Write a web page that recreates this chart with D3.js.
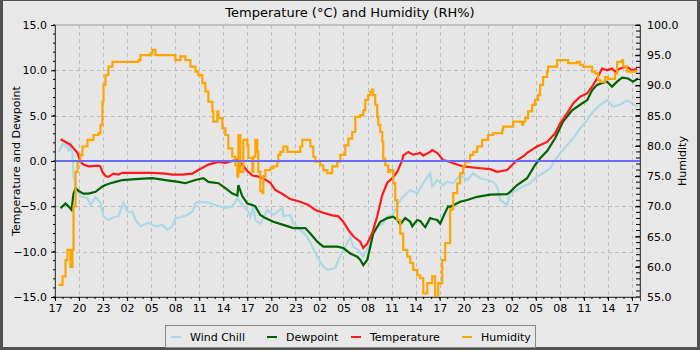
<!DOCTYPE html>
<html><head><meta charset="utf-8">
<script src="https://cdn.jsdelivr.net/npm/d3@7"></script>
<style>
html,body{margin:0;padding:0;background:#e8e8e8;}
svg{display:block;font-family:"DejaVu Sans",sans-serif;}
</style></head><body>
<svg id="chart" width="700" height="350"></svg>
<script>
// Time is hours elapsed since 17:00 on the first day.
const startHour = 17;
const hourTicks = d3.range(0, 73, 3);
const tempTicks = d3.range(-15, 15.1, 5);
const humTicks = d3.range(55, 100.1, 5);

const seriesNames = ["Wind Chill", "Dewpoint", "Temperature", "Humidity"];

const windChill = [[0.44,1.0],[0.69,1.4],[0.94,1.95],[1.31,1.6],[1.56,2.2],[1.68,1.0],[1.93,1.8],[2.18,0.9],[2.31,-1.7],[2.56,-2.8],[3.18,-3.9],[4.05,-4.1],[4.43,-4.85],[5.05,-4.0],[5.67,-4.6],[6.05,-6.1],[6.67,-6.5],[7.29,-6.2],[7.92,-6.1],[8.54,-4.6],[9.04,-5.6],[9.66,-5.6],[10.04,-6.5],[10.66,-7.2],[11.66,-6.8],[12.53,-7.2],[13.40,-7.05],[14.03,-7.6],[14.65,-7.2],[15.02,-6.3],[15.65,-6.2],[16.52,-5.95],[17.14,-5.6],[17.52,-4.65],[17.89,-4.5],[19.14,-4.6],[20.01,-4.85],[21.26,-5.2],[22.13,-5.0],[22.76,-4.1],[23.38,-4.85],[24.13,-5.6],[24.38,-6.15],[24.75,-5.0],[25.00,-6.5],[25.62,-6.9],[26.50,-5.4],[27.24,-5.95],[28.37,-5.2],[28.49,-6.1],[29.36,-5.95],[29.74,-6.9],[30.61,-7.6],[31.48,-8.35],[32.11,-9.45],[32.73,-10.55],[33.35,-11.5],[33.98,-12.0],[34.98,-11.8],[35.35,-10.9],[36.22,-9.45],[36.85,-8.35],[37.22,-9.45],[37.84,-9.8],[38.47,-10.55],[39.09,-9.45],[39.59,-8.35],[40.21,-7.25],[40.96,-6.9],[41.46,-6.15],[42.08,-5.95],[42.46,-5.4],[42.83,-4.65],[43.45,-3.95],[44.33,-3.2],[45.20,-3.55],[45.95,-2.45],[46.82,-1.35],[47.07,-2.8],[47.69,-2.1],[48.44,-2.65],[48.94,-2.3],[49.69,-2.45],[50.56,-1.55],[51.43,-2.1],[52.18,-1.35],[53.05,-1.9],[53.93,-2.1],[54.68,-2.3],[55.17,-2.8],[55.55,-4.3],[56.42,-4.85],[56.80,-3.55],[57.67,-3.2],[58.42,-2.8],[59.29,-2.45],[60.16,-1.7],[60.91,-1.35],[61.78,-0.8],[62.41,0.1],[63.03,0.85],[63.90,1.75],[64.65,2.5],[65.52,3.6],[66.40,4.5],[67.14,5.45],[68.02,6.2],[68.89,6.7],[69.64,6.0],[70.51,6.2],[71.38,6.7],[72.01,6.35],[72.63,6.0]];

const dewpoint = [[0.69,-5.2],[1.31,-4.7],[1.68,-5.0],[2.06,-5.4],[2.31,-3.6],[2.56,-3.0],[2.93,-3.3],[3.55,-3.6],[4.18,-3.6],[5.05,-3.4],[5.92,-2.8],[6.30,-2.65],[6.92,-2.45],[7.54,-2.3],[8.42,-2.1],[10.04,-2.0],[12.16,-1.9],[13.78,-2.1],[15.40,-2.3],[16.27,-2.45],[17.52,-2.1],[18.52,-1.9],[19.14,-2.3],[20.39,-2.45],[21.26,-3.0],[22.13,-3.6],[22.76,-3.8],[22.88,-2.65],[23.38,-3.9],[24.00,-4.7],[24.63,-4.85],[25.00,-5.0],[25.62,-5.95],[26.25,-6.3],[27.24,-6.7],[28.49,-7.05],[29.74,-7.4],[31.23,-7.4],[31.86,-8.0],[32.73,-8.9],[33.48,-9.45],[35.22,-9.45],[35.97,-9.6],[36.85,-10.2],[37.72,-10.55],[38.09,-10.9],[38.47,-11.5],[38.97,-10.9],[39.34,-9.45],[39.71,-8.0],[40.59,-6.7],[41.46,-6.3],[42.21,-6.15],[42.71,-6.5],[43.08,-7.0],[43.70,-6.3],[44.33,-6.7],[44.58,-7.2],[45.20,-6.5],[45.57,-6.6],[45.95,-7.05],[46.20,-7.3],[46.82,-6.3],[47.19,-6.4],[47.69,-6.5],[48.07,-6.9],[48.44,-6.15],[49.06,-5.0],[49.31,-5.05],[50.56,-4.5],[51.43,-4.3],[52.68,-3.95],[54.30,-3.7],[56.42,-3.65],[56.80,-3.4],[57.67,-2.65],[58.91,-1.9],[59.91,-0.44],[60.54,0.3],[61.41,1.1],[62.41,2.5],[63.40,4.35],[64.53,5.6],[65.52,6.2],[66.40,6.7],[67.02,7.8],[67.64,8.4],[68.27,8.6],[68.89,8.75],[69.51,8.2],[70.14,8.75],[70.76,9.2],[71.51,9.1],[72.13,8.75],[72.76,9.1]];

const temperature = [[0.69,2.4],[1.31,2.1],[1.93,1.8],[2.31,1.4],[2.81,0.9],[3.18,-0.1],[3.55,-0.4],[4.18,-0.6],[5.42,-0.5],[5.67,-0.6],[5.92,-1.2],[6.30,-1.65],[6.67,-1.75],[7.29,-1.4],[7.92,-1.5],[8.42,-1.3],[10.04,-1.3],[12.16,-1.3],[13.78,-1.4],[14.65,-1.5],[15.90,-1.5],[17.14,-1.4],[17.89,-1.0],[19.14,-0.4],[20.39,-0.1],[21.26,-0.2],[22.13,0.0],[22.76,0.2],[23.38,-0.4],[24.00,-1.1],[24.63,-1.6],[25.25,-1.7],[26.00,-1.9],[26.87,-2.4],[27.49,-3.2],[28.49,-3.7],[29.36,-4.2],[30.61,-4.5],[31.61,-4.85],[32.48,-5.4],[33.48,-5.7],[34.60,-6.0],[35.35,-6.1],[35.97,-6.7],[36.60,-7.6],[37.22,-8.3],[38.09,-8.9],[38.47,-9.6],[38.97,-9.1],[39.59,-7.95],[40.21,-6.1],[40.84,-3.75],[41.46,-2.4],[42.08,-1.9],[42.71,-1.2],[43.33,0.1],[43.45,0.6],[44.08,1.0],[44.70,0.7],[45.20,0.8],[45.57,0.9],[45.95,0.6],[46.82,1.0],[47.07,1.2],[47.69,0.9],[48.44,0.1],[49.31,-0.1],[49.69,-0.25],[50.93,-0.6],[53.05,-0.8],[54.30,-0.9],[55.17,-1.2],[56.42,-1.0],[57.04,-0.44],[57.67,0.1],[58.42,0.5],[58.91,0.9],[60.16,1.6],[61.41,2.1],[62.41,3.05],[63.03,4.15],[63.90,5.25],[64.65,6.35],[65.52,7.1],[66.40,7.45],[67.02,8.2],[67.64,9.1],[68.27,10.2],[68.89,10.0],[69.51,10.2],[69.89,9.85],[70.51,10.2],[71.38,10.4],[72.01,10.0],[72.63,10.2]];

const humidity = [[0.44,57.0],[0.69,57.0],[0.94,58.4],[1.31,61.1],[1.56,62.8],[1.93,60.0],[2.18,62.8],[2.31,70.0],[2.56,75.7],[2.81,77.4],[3.18,78.5],[3.43,79.9],[4.05,81.0],[4.80,81.8],[5.42,82.1],[5.67,83.5],[5.92,87.3],[6.05,90.1],[6.30,91.7],[6.67,93.1],[7.17,93.9],[10.41,94.2],[10.66,95.0],[11.91,95.3],[12.16,95.9],[12.53,95.0],[14.78,95.0],[15.02,94.2],[15.65,94.8],[16.27,94.2],[16.90,93.1],[17.52,92.3],[17.89,91.7],[18.39,90.4],[18.77,89.0],[19.14,87.3],[19.64,85.7],[19.76,84.0],[20.26,85.7],[20.39,84.6],[20.89,82.9],[21.26,81.8],[21.63,79.6],[22.13,78.2],[22.51,76.8],[22.76,74.9],[22.88,81.8],[23.13,75.7],[23.50,81.0],[24.00,80.1],[24.13,78.0],[24.63,75.7],[24.75,78.2],[25.00,81.0],[25.25,79.0],[25.37,75.7],[25.62,72.5],[25.87,72.2],[26.00,75.0],[26.25,76.0],[26.87,76.3],[27.24,76.6],[27.74,77.4],[27.87,78.5],[28.12,79.0],[28.49,79.9],[28.99,79.0],[30.36,79.0],[30.61,79.9],[30.86,81.0],[31.61,81.0],[31.86,79.9],[32.23,78.2],[32.48,77.4],[33.10,76.8],[33.48,76.0],[33.98,75.5],[34.60,76.6],[35.22,77.4],[35.60,78.5],[36.22,80.1],[36.60,81.2],[37.09,82.3],[37.47,84.8],[38.09,85.1],[38.47,85.9],[38.72,87.6],[39.09,88.4],[39.34,89.0],[39.59,89.3],[39.71,88.4],[39.96,86.8],[40.21,84.8],[40.34,83.5],[40.59,82.3],[40.84,80.7],[40.96,77.9],[41.21,76.8],[41.58,75.7],[41.83,76.0],[42.21,73.8],[42.46,71.0],[42.71,67.7],[43.08,65.5],[43.45,62.8],[43.95,61.7],[44.33,60.6],[44.70,59.5],[45.20,58.6],[45.57,58.1],[45.95,55.6],[46.45,57.3],[47.07,58.4],[47.44,55.0],[47.82,57.3],[48.32,61.1],[48.69,63.9],[49.31,69.5],[49.69,72.2],[50.19,73.8],[50.56,75.5],[50.93,76.6],[51.18,77.4],[51.81,78.5],[52.18,79.0],[52.68,79.9],[53.30,81.0],[54.05,81.8],[54.68,82.1],[55.80,82.6],[55.92,83.2],[57.04,83.2],[57.17,84.0],[58.04,84.0],[58.29,83.5],[58.42,84.0],[58.67,84.6],[59.04,85.7],[59.54,86.8],[59.91,87.6],[60.29,88.4],[60.54,90.1],[60.91,91.4],[61.41,92.3],[61.53,93.1],[62.41,93.1],[62.66,94.2],[63.90,94.2],[64.03,93.7],[65.15,93.9],[65.52,93.4],[65.90,93.1],[66.77,93.1],[67.02,92.3],[67.39,92.0],[67.77,90.9],[68.02,90.6],[68.64,91.4],[69.01,91.1],[69.64,91.1],[69.89,92.0],[70.14,93.9],[70.76,94.2],[70.89,93.1],[71.38,92.3],[72.63,92.3]];

const colors = {"Wind Chill":"#add8e6","Dewpoint":"#006400","Temperature":"#ff1a1a","Humidity":"#ffa500"};

const svg = d3.select("#chart");
const plot = {left:55, right:640, top:25, bottom:297};
const x = d3.scaleLinear().domain([0, 73]).range([plot.left, plot.right]);
const yT = d3.scaleLinear().domain([-15, 15]).range([plot.bottom, plot.top]);
const yH = d3.scaleLinear().domain([55, 100]).range([plot.bottom, plot.top]);

// outer frame
svg.append("rect").attr("x",0).attr("y",0).attr("width",700).attr("height",350).attr("fill","#505050");
svg.append("rect").attr("x",3).attr("y",1).attr("width",694).attr("height",346).attr("fill","#e8e8e8");

// title
svg.append("text").attr("x",350).attr("y",17).attr("text-anchor","middle")
  .attr("font-size",13).attr("fill","#000").text("Temperature (°C) and Humidity (RH%)");

// plot background
svg.append("rect").attr("x",plot.left).attr("y",plot.top)
  .attr("width",plot.right-plot.left).attr("height",plot.bottom-plot.top)
  .attr("fill","#e6e6e6").attr("stroke","#999").attr("stroke-width",1);

// grid
const grid = svg.append("g").attr("stroke","#bdbdbd").attr("stroke-width",1).attr("stroke-dasharray","4,3");
hourTicks.filter(h => h > 0).forEach(h => {
  grid.append("line").attr("x1",Math.round(x(h))+0.5).attr("x2",Math.round(x(h))+0.5)
    .attr("y1",plot.top).attr("y2",plot.bottom);
});
tempTicks.filter(v => v > -15 && v < 15).forEach(v => {
  grid.append("line").attr("y1",Math.round(yT(v))+0.5).attr("y2",Math.round(yT(v))+0.5)
    .attr("x1",plot.left).attr("x2",plot.right);
});

svg.append("clipPath").attr("id","clip").append("rect")
  .attr("x",plot.left).attr("y",plot.top).attr("width",plot.right-plot.left).attr("height",plot.bottom-plot.top);

const body = svg.append("g").attr("clip-path","url(#clip)");
const lineT = d3.line().x(d => x(d[0])).y(d => yT(d[1]));
const lineH = d3.line().x(d => x(d[0])).y(d => yH(d[1])).curve(d3.curveStepAfter);

const drawn = [
  {name:"Wind Chill", data:windChill, gen:lineT},
  {name:"Dewpoint", data:dewpoint, gen:lineT},
  {name:"Temperature", data:temperature, gen:lineT},
  {name:"Humidity", data:humidity, gen:lineH}
];
drawn.forEach(s => {
  body.append("path").datum(s.data).attr("d", s.gen)
    .attr("fill","none").attr("stroke",colors[s.name]).attr("stroke-width",2.2)
    .attr("stroke-linejoin","miter");
});

// zero reference line
body.append("line").attr("x1",plot.left).attr("x2",plot.right)
  .attr("y1",yT(0)).attr("y2",yT(0)).attr("stroke","#6a6aff").attr("stroke-width",2);

// axes
const fmt1 = d3.format(".1f");
const axL = svg.append("g").attr("transform",`translate(${plot.left},0)`)
  .call(d3.axisLeft(yT).tickValues(tempTicks).tickFormat(fmt1).tickSize(4).tickPadding(4));
axL.append("g").selectAll("line").data(d3.range(-15,15.1,1)).join("line")
  .attr("x1",-2).attr("x2",0).attr("y1",d => yT(d)).attr("y2",d => yT(d)).attr("stroke","#000");

// right axis: ticks point into the plot
const axR = svg.append("g").attr("transform",`translate(${plot.right},0)`)
  .call(d3.axisRight(yH).tickValues(humTicks).tickFormat(fmt1).tickSize(-5).tickPadding(7));
axR.append("g").selectAll("line").data(d3.range(55,100.1,1)).join("line")
  .attr("x1",-4).attr("x2",0).attr("y1",d => yH(d)).attr("y2",d => yH(d)).attr("stroke","#000");

const axB = svg.append("g").attr("transform",`translate(0,${plot.bottom})`)
  .call(d3.axisBottom(x).tickValues(hourTicks)
    .tickFormat(h => d3.format("02d")((startHour + h) % 24)).tickSize(4).tickPadding(3));
axB.append("g").selectAll("line").data(d3.range(0,73,1)).join("line")
  .attr("x1",d => x(d)).attr("x2",d => x(d)).attr("y1",0).attr("y2",2).attr("stroke","#000");

[axL, axR, axB].forEach(a => {
  a.selectAll("text").attr("font-size",11).attr("font-family","DejaVu Sans").attr("fill","#000");
  a.select(".domain").attr("stroke","#444");
});

// axis titles
svg.append("text").attr("transform",`translate(20,${(plot.top+plot.bottom)/2}) rotate(-90)`)
  .attr("text-anchor","middle").attr("font-size",11).text("Temperature and Dewpoint");
svg.append("text").attr("transform",`translate(686,${(plot.top+plot.bottom)/2}) rotate(-90)`)
  .attr("text-anchor","middle").attr("font-size",11).text("Humidity");

// legend
const lg = svg.append("g");
lg.append("rect").attr("x",165.5).attr("y",325.5).attr("width",370).attr("height",22)
  .attr("fill","#e8e8e8").attr("stroke","#888");
const legendX = [171, 267, 351, 462];
seriesNames.forEach((n,i) => {
  lg.append("line").attr("x1",legendX[i]).attr("x2",legendX[i]+10).attr("y1",337).attr("y2",337)
    .attr("stroke",colors[n]).attr("stroke-width",2);
  lg.append("text").attr("x",legendX[i]+19).attr("y",341).attr("font-size",11).text(n);
});
</script>
</body></html>
